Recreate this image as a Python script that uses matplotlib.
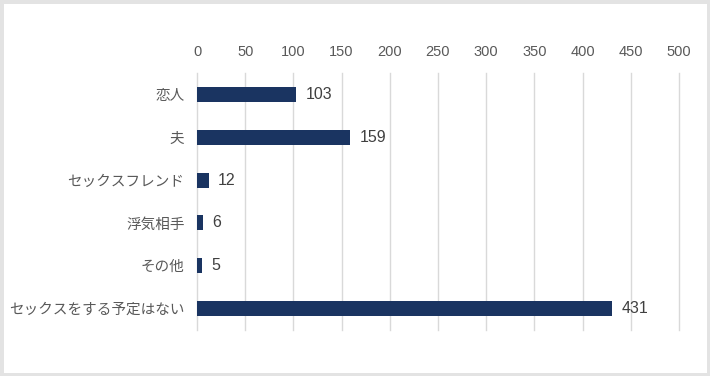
import matplotlib
matplotlib.use("Agg")
import matplotlib.pyplot as plt
from matplotlib.patches import Rectangle

categories = ["恋人", "夫", "セックスフレンド", "浮気相手", "その他", "セックスをする予定はない"]
values = [103, 159, 12, 6, 5, 431]
xticks = [0, 50, 100, 150, 200, 250, 300, 350, 400, 450, 500]

plt.rcParams['font.family'] = ['Liberation Sans', 'Noto Sans CJK JP', 'DejaVu Sans']

fig = plt.figure(figsize=(7.1, 3.76), dpi=100)
fig.patch.set_facecolor("white")
fig.patches.append(Rectangle((0, 0), 1, 1, transform=fig.transFigure, fill=False,
                             edgecolor="#e3e3e3", linewidth=5, zorder=10))

ax = fig.add_axes([197/710, 1-330/376, (679-197)/710, (330-73)/376])
y = list(range(len(categories)))
ax.barh(y, values, height=0.35, color="#1a3461", zorder=3)
ax.set_ylim(len(categories)-0.5, -0.5)
ax.set_xlim(0, 500)
ax.set_xticks(xticks)
ax.set_xticklabels([str(t) for t in xticks])
ax.xaxis.tick_top()
ax.set_yticks(y)
ax.set_yticklabels(categories)
ax.tick_params(axis='both', length=0, colors="#595959")
ax.tick_params(axis='x', pad=10, labelsize=10.5)
ax.tick_params(axis='y', pad=9, labelsize=10.5)
ax.grid(axis='x', color="#d9d9d9", linewidth=1, zorder=0)
for gl in ax.get_xgridlines():
    gl.set_clip_on(False)
for s in ax.spines.values():
    s.set_visible(False)
for yi, v in zip(y, values):
    ax.text(v + 10, yi, str(v), va='center', ha='left', fontsize=11.5, color="#404040", zorder=4)

fig.savefig("out.png", dpi=100)
